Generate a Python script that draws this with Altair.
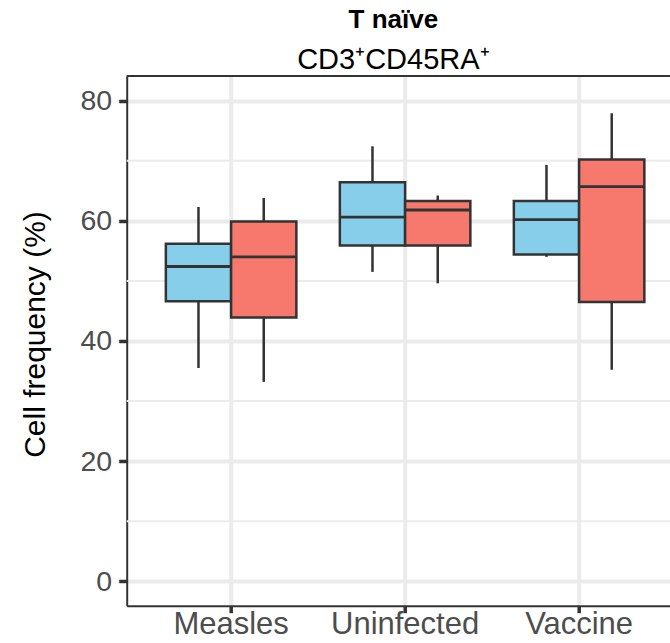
import altair as alt
import pandas as pd

categories = ["Measles", "Uninfected", "Vaccine"]
groups = ["Group 1", "Group 2"]

# per group: values for Measles, Uninfected, Vaccine
whisker_low = {"Group 1": [35.5, 51.5, 54.0], "Group 2": [33.2, 49.6, 35.2]}
q1 = {"Group 1": [46.6, 55.9, 54.4], "Group 2": [43.9, 55.9, 46.5]}
median = {"Group 1": [52.4, 60.6, 60.2], "Group 2": [54.0, 61.8, 65.7]}
q3 = {"Group 1": [56.2, 66.4, 63.3], "Group 2": [59.9, 63.3, 70.2]}
whisker_high = {"Group 1": [62.3, 72.4, 69.3], "Group 2": [63.8, 64.2, 77.9]}

major_ticks = [0, 20, 40, 60, 80]
minor_ticks = [10, 30, 50, 70]
y_domain = [-4.05, 84.1]
colors = ["#87CEEB", "#F7796D"]

rows = []
for g in groups:
    for i, c in enumerate(categories):
        rows.append({
            "category": c, "group": g,
            "lo": whisker_low[g][i], "q1": q1[g][i], "med": median[g][i],
            "q3": q3[g][i], "hi": whisker_high[g][i],
        })
df = pd.DataFrame(rows)
minor_df = pd.DataFrame({"v": minor_ticks})
top_df = pd.DataFrame({"v": [y_domain[1]]})

FONT = "Liberation Sans"
BORDER = "#333333"

x_scale = alt.Scale(domain=categories, paddingInner=0, paddingOuter=0.0612, align=0.817)
x_enc = alt.X(
    "category:N",
    sort=categories,
    scale=x_scale,
    axis=alt.Axis(
        title=None, labelAngle=0, labelFont=FONT, labelFontSize=31, labelColor="#4D4D4D",
        labelBaseline="alphabetic", labelPadding=21, tickColor=BORDER, tickWidth=3.5,
        tickSize=7, domain=True, domainColor=BORDER, domainWidth=2,
        grid=True, gridColor="#EBEBEB", gridWidth=4, bandPosition=0.5,
    ),
)
xoff = alt.XOffset(
    "group:N", sort=groups,
    scale=alt.Scale(domain=groups, paddingInner=0, paddingOuter=1 / 3),
)
y_scale = alt.Scale(domain=y_domain, nice=False, zero=False)
y_axis = alt.Axis(
    values=major_ticks, title="Cell frequency (%)", labelFont=FONT, labelFontSize=28.5,
    labelColor="#4D4D4D", labelPadding=7, tickColor=BORDER, tickWidth=3.5, tickSize=8,
    domain=True, domainColor=BORDER, domainWidth=2,
    grid=True, gridColor="#EBEBEB", gridWidth=4,
    titleFont=FONT, titleFontSize=30, titleFontWeight="normal", titleColor="black",
    titleX=-82.5, titleY=258, titleBaseline="alphabetic", titleAlign="center", titleAngle=270,
)

minor = alt.Chart(minor_df).mark_rule(color="#EBEBEB", strokeWidth=2).encode(
    y=alt.Y("v:Q", scale=y_scale, axis=y_axis)
)
top_border = alt.Chart(top_df).mark_rule(color=BORDER, strokeWidth=2).encode(
    y=alt.Y("v:Q", scale=y_scale, axis=y_axis)
)

base = alt.Chart(df)
whiskers = base.mark_rule(color=BORDER, strokeWidth=2.5).encode(
    x=x_enc, xOffset=xoff,
    y=alt.Y("lo:Q", scale=y_scale, axis=y_axis), y2="hi:Q",
)
boxes = base.mark_bar(stroke=BORDER, strokeWidth=2.5).encode(
    x=x_enc, xOffset=xoff,
    y=alt.Y("q1:Q", scale=y_scale, axis=y_axis), y2="q3:Q",
    fill=alt.Fill("group:N", scale=alt.Scale(domain=groups, range=colors), legend=None),
)
medians = base.mark_tick(color=BORDER, thickness=2.8, size=65, opacity=1).encode(
    x=x_enc, xOffset=xoff,
    y=alt.Y("med:Q", scale=y_scale, axis=y_axis),
)

chart = alt.layer(minor, top_border, whiskers, boxes, medians).properties(
    width=543.3,
    height=529.7,
    padding={"left": 126.7, "top": 76, "right": 0, "bottom": 29},
    autosize=alt.AutoSizeParams(type="none"),
    title=alt.TitleParams(
        text="T naïve", subtitle="CD3⁺CD45RA⁺", anchor="middle", frame="group",
        font=FONT, fontSize=26, fontWeight="bold", color="black",
        subtitleFont=FONT, subtitleFontSize=29, subtitleColor="black",
        subtitlePadding=13, offset=0, dx=-5,
    ),
).configure(background="white").configure_view(stroke=None)

chart.save("out.html", embed_options={"renderer": "svg", "actions": False})
